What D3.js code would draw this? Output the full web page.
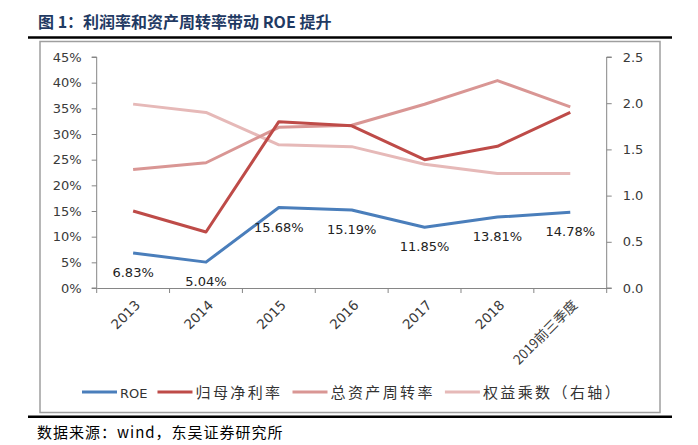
<!DOCTYPE html>
<html><head><meta charset="utf-8">
<script src="https://cdn.jsdelivr.net/npm/d3@7/dist/d3.min.js"></script>
<style>
html,body{margin:0;padding:0;background:#fff;}
svg{display:block;}
</style></head>
<body>
<script>
const categories = ["2013","2014","2015","2016","2017","2018","2019前三季度"];
const roe = [6.83, 5.04, 15.68, 15.19, 11.85, 13.81, 14.78];
const netMargin = [15.0, 10.9, 32.4, 31.6, 25.0, 27.6, 34.2];
const assetTurnover = [23.1, 24.4, 31.3, 31.7, 35.8, 40.4, 35.3];
const equityMultiplier = [1.99, 1.90, 1.55, 1.53, 1.34, 1.24, 1.24];
const leftTicks = [0,5,10,15,20,25,30,35,40,45];
const rightTicks = [0,0.5,1.0,1.5,2.0,2.5];
const seriesNames = ["ROE","归母净利率","总资产周转率","权益乘数（右轴）"];
const colors = ["#4A7EBB","#BE4B48","#D99694","#E6B9B8"];

const W = 698, H = 445;
const svg = d3.select("body").append("svg").attr("width", W).attr("height", H);
const sans = "'DejaVu Sans', sans-serif";
const cjk = "'Noto Sans CJK SC', sans-serif";

// title
svg.append("text").attr("x", 38).attr("y", 28)
  .attr("font-family", cjk).attr("font-weight", 700).attr("font-size", 16)
  .attr("fill", "#1F3A63").text("图 1：利润率和资产周转率带动 ROE 提升");
svg.append("line").attr("x1", 28).attr("x2", 672).attr("y1", 37.5).attr("y2", 37.5)
  .attr("stroke", "#000").attr("stroke-width", 2.5);
svg.append("rect").attr("x", 40).attr("y", 41.5).attr("width", 620).attr("height", 371)
  .attr("fill", "none").attr("stroke", "#9f9f9f").attr("stroke-width", 1.5);
svg.append("line").attr("x1", 28).attr("x2", 672).attr("y1", 416.7).attr("y2", 416.7)
  .attr("stroke", "#000").attr("stroke-width", 2.5);
svg.append("text").attr("x", 37).attr("y", 438)
  .attr("font-family", cjk).attr("font-size", 15).attr("letter-spacing", 1)
  .attr("fill", "#000").text("数据来源：wind，东吴证券研究所");

const x0 = 96.7, x1 = 606.7, yTop = 57, yBot = 288;
const x = d3.scaleBand().domain(categories).range([x0, x1]);
const yL = d3.scaleLinear().domain([0, 45]).range([yBot, yTop]);
const yR = d3.scaleLinear().domain([0, 2.5]).range([yBot, yTop]);
const cx = c => x(c) + x.bandwidth() / 2;

const axisColor = "#868686";
const gL = svg.append("g").attr("transform", `translate(${x0},0)`)
  .call(d3.axisLeft(yL).tickValues(leftTicks).tickFormat(d => d + "%").tickSize(5).tickPadding(10));
const gR = svg.append("g").attr("transform", `translate(${x1},0)`)
  .call(d3.axisRight(yR).tickValues(rightTicks).tickFormat(d3.format(".1f")).tickSize(5).tickPadding(11));
const gB = svg.append("g").attr("transform", `translate(0,${yBot})`)
  .call(d3.axisBottom(x).tickSize(0).tickFormat(""));
[gL, gR, gB].forEach(g => {
  g.select(".domain").attr("stroke", axisColor).attr("stroke-width", 1);
  g.selectAll(".tick line").attr("stroke", axisColor);
  g.selectAll("text").attr("font-family", sans).attr("font-size", 13).attr("fill", "#3a3a3a");
});
gL.select(".domain").attr("d", `M-5,${yTop}H0V${yBot}H-5`);
gR.select(".domain").attr("d", `M5,${yTop}H0V${yBot}H5`);
const bounds = categories.map(c => x(c)).concat([x1]);
svg.append("g").selectAll("line").data(bounds).join("line")
  .attr("x1", d => d).attr("x2", d => d).attr("y1", yBot).attr("y2", yBot + 5)
  .attr("stroke", axisColor);
svg.append("g").selectAll("text").data(categories).join("text")
  .attr("transform", d => `translate(${cx(d) + 8},${yBot + 18}) rotate(-45)`)
  .attr("text-anchor", "end")
  .attr("font-family", d => d.length > 4 ? cjk : sans)
  .attr("font-size", 13.5).attr("fill", "#3a3a3a").text(d => d);

const lineL = d3.line().x((d, i) => cx(categories[i])).y(d => yL(d));
const lineR = d3.line().x((d, i) => cx(categories[i])).y(d => yR(d));
const drawn = [
  {data: equityMultiplier, gen: lineR, color: colors[3]},
  {data: assetTurnover, gen: lineL, color: colors[2]},
  {data: netMargin, gen: lineL, color: colors[1]},
  {data: roe, gen: lineL, color: colors[0]}
];
drawn.forEach(s => {
  svg.append("path").attr("d", s.gen(s.data)).attr("fill", "none")
    .attr("stroke", s.color).attr("stroke-width", 3).attr("stroke-linejoin", "round");
});
svg.append("g").selectAll("text").data(roe).join("text")
  .attr("x", (d, i) => cx(categories[i])).attr("y", d => yL(d) + 24)
  .attr("text-anchor", "middle").attr("font-family", sans).attr("font-size", 13)
  .attr("fill", "#222").text(d => d.toFixed(2) + "%");

const lg = svg.append("g");
let lx = 82; const ly = 392;
seriesNames.forEach((n, i) => {
  lg.append("line").attr("x1", lx).attr("x2", lx + 35).attr("y1", ly).attr("y2", ly)
    .attr("stroke", colors[i]).attr("stroke-width", 3);
  const t = lg.append("text").attr("x", lx + 38).attr("y", ly + 5.5)
    .attr("font-family", i === 0 ? sans : cjk).attr("font-size", i === 0 ? 13 : 15)
    .attr("letter-spacing", i === 0 ? 0 : 2.4).attr("fill", "#333").text(n);
  lx = lx + 38 + t.node().getComputedTextLength() + 10;
});
</script>
</body></html>
